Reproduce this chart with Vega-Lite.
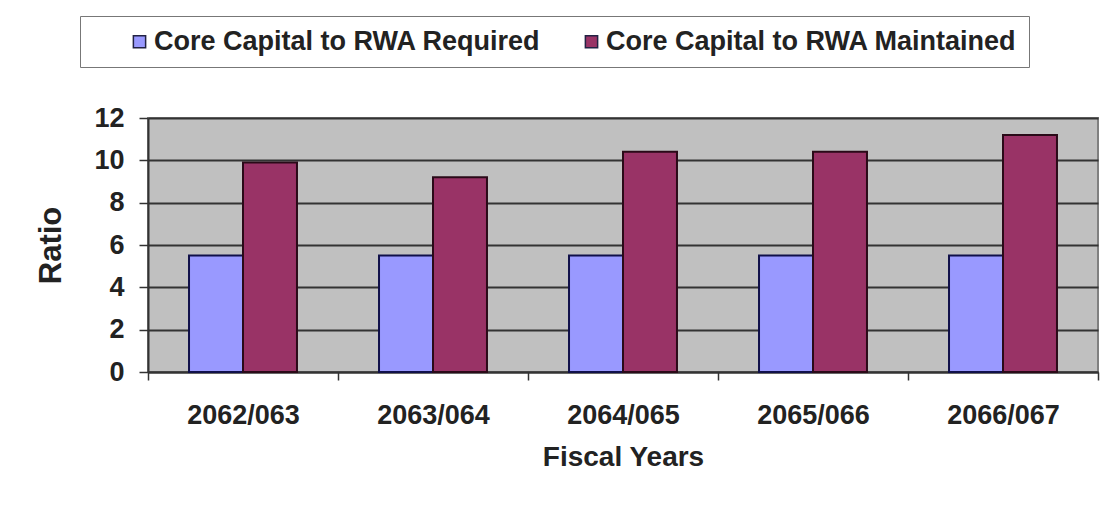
{
  "$schema": "https://vega.github.io/schema/vega-lite/v6.json",
  "width": 950,
  "height": 254,
  "autosize": {"type": "none"},
  "padding": {"left": 148, "top": 118, "right": 6, "bottom": 141},
  "background": "white",
  "data": {
    "values": [
      {"year": "2062/063", "series": "Core Capital to RWA Required", "ratio": 5.5},
      {"year": "2062/063", "series": "Core Capital to RWA Maintained", "ratio": 9.9},
      {"year": "2063/064", "series": "Core Capital to RWA Required", "ratio": 5.5},
      {"year": "2063/064", "series": "Core Capital to RWA Maintained", "ratio": 9.2},
      {"year": "2064/065", "series": "Core Capital to RWA Required", "ratio": 5.5},
      {"year": "2064/065", "series": "Core Capital to RWA Maintained", "ratio": 10.4},
      {"year": "2065/066", "series": "Core Capital to RWA Required", "ratio": 5.5},
      {"year": "2065/066", "series": "Core Capital to RWA Maintained", "ratio": 10.4},
      {"year": "2066/067", "series": "Core Capital to RWA Required", "ratio": 5.5},
      {"year": "2066/067", "series": "Core Capital to RWA Maintained", "ratio": 11.2}
    ]
  },
  "mark": {"type": "bar", "strokeWidth": 2},
  "encoding": {
    "x": {
      "field": "year",
      "type": "nominal",
      "scale": {"paddingInner": 0, "paddingOuter": 0},
      "axis": {
        "title": "Fiscal Years",
        "labelAngle": 0,
        "tickBand": "extent",
        "tickSize": 8,
        "tickColor": "#333333",
        "tickWidth": 1.5,
        "domainColor": "#333333",
        "domainWidth": 2,
        "labelFont": "Liberation Sans",
        "labelFontWeight": "bold",
        "labelFontSize": 27,
        "labelColor": "#222222",
        "labelPadding": 22,
        "titleFont": "Liberation Sans",
        "titleFontWeight": "bold",
        "titleFontSize": 28,
        "titleColor": "#222222",
        "titlePadding": 15
      }
    },
    "xOffset": {
      "field": "series",
      "type": "nominal",
      "sort": ["Core Capital to RWA Required", "Core Capital to RWA Maintained"],
      "scale": {"paddingInner": 0, "paddingOuter": 0.76}
    },
    "y": {
      "field": "ratio",
      "type": "quantitative",
      "scale": {"domain": [0, 12], "nice": false},
      "axis": {
        "title": "Ratio",
        "values": [0, 2, 4, 6, 8, 10, 12],
        "grid": true,
        "gridColor": "#333333",
        "gridWidth": 2,
        "tickSize": 9,
        "tickColor": "#333333",
        "tickWidth": 1.5,
        "domainColor": "#333333",
        "domainWidth": 2,
        "labelFont": "Liberation Sans",
        "labelFontWeight": "bold",
        "labelFontSize": 27,
        "labelColor": "#222222",
        "labelPadding": 15,
        "titleFont": "Liberation Sans",
        "titleFontWeight": "bold",
        "titleFontSize": 31,
        "titleColor": "#222222",
        "titlePadding": 26
      }
    },
    "color": {
      "field": "series",
      "type": "nominal",
      "sort": ["Core Capital to RWA Required", "Core Capital to RWA Maintained"],
      "scale": {"range": ["#9999FF", "#993366"]},
      "legend": {
        "title": null,
        "orient": "none",
        "legendX": -68,
        "legendY": -102,
        "direction": "horizontal",
        "padding": 12,
        "strokeColor": "#777777",
        "fillColor": "white",
        "symbolType": "square",
        "symbolSize": 150,
        "symbolStrokeColor": "#222244",
        "symbolStrokeWidth": 1.5,
        "symbolOpacity": 1,
        "symbolOffset": 34,
        "columnPadding": 3,
        "labelFont": "Liberation Sans",
        "labelFontWeight": "bold",
        "labelFontSize": 27,
        "labelColor": "#222222",
        "labelLimit": 0,
        "labelOffset": 1
      }
    },
    "stroke": {
      "field": "series",
      "type": "nominal",
      "sort": ["Core Capital to RWA Required", "Core Capital to RWA Maintained"],
      "scale": {"range": ["#10104a", "#2a0a18"]},
      "legend": null
    }
  },
  "config": {
    "view": {"fill": "#C0C0C0", "stroke": "#808080", "strokeWidth": 2}
  }
}
